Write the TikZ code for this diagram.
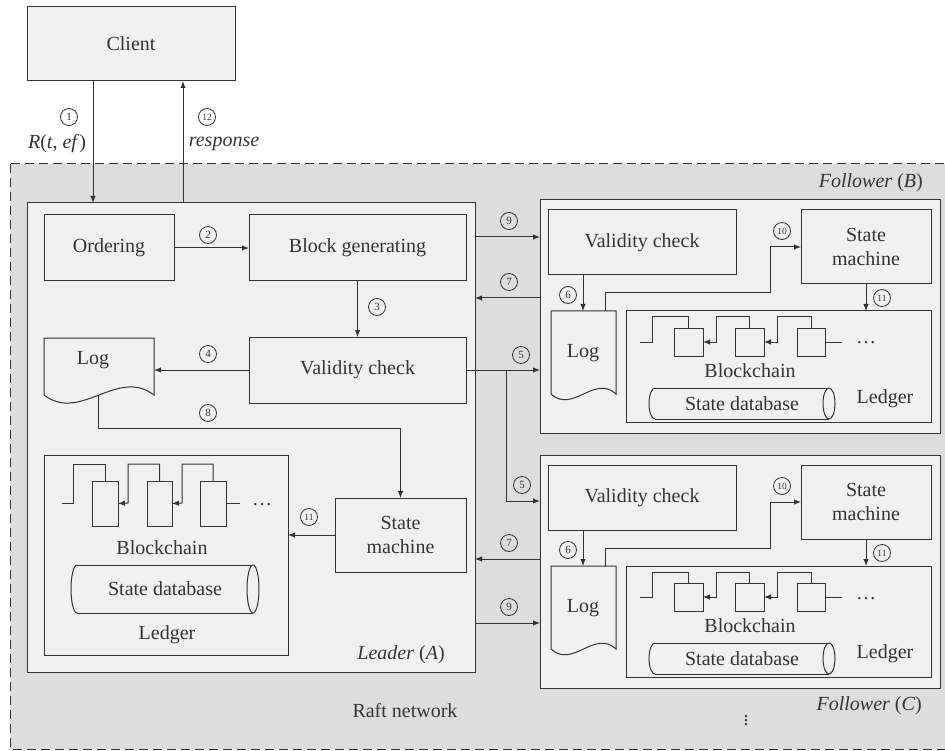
\documentclass[tikz,border=0pt]{standalone}
\usepackage{fontspec}
\setmainfont{Liberation Serif}
\usetikzlibrary{arrows.meta,calc}

\definecolor{netgray}{HTML}{DCDDDC}
\definecolor{panel}{HTML}{F0F1F0}
\definecolor{ink}{HTML}{333333}

\tikzset{
  base/.style={line width=1pt, draw=ink},
  box/.style={base, fill=panel, inner sep=0pt, outer sep=0pt, text=ink,
              font=\fontsize{20}{24.5}\selectfont, align=center},
  blk/.style={base, fill=panel, inner sep=0pt, outer sep=0pt},
  ghost/.style={inner sep=0pt, outer sep=0pt},
  arr/.style={base, -{Latex[length=7pt,width=5.5pt]}},
  num/.style={circle, draw=ink, line width=0.8pt, inner sep=0pt,
              minimum size=17pt, text=ink, font=\fontsize{11}{11}\selectfont},
  numw/.style={num, font=\fontsize{9.5}{10}\selectfont},
  lbl/.style={inner sep=0pt, text=ink, font=\fontsize{20}{22}\selectfont},
}

% rectangle node given by its corners: name, style, x0, y0, x1, y1, text
\newcommand\rectnode[7]{%
  \node[#2, minimum width={(#5)-(#3)}, minimum height={(#6)-(#4)}]
    (#1) at ({((#3)+(#5))/2},{((#4)+(#6))/2}) {#7};}

% document-shaped log: name, x0, ytop, x1, ybase, wave amplitude
\newcommand\logshape[6]{%
  \draw[base, fill=panel] (#2,#5) -- (#2,#3) -- (#4,#3) -- (#4,#5)
    .. controls ({(#4)-((#4)-(#2))/3},{(#5)-(#6)}) and ({(#2)+((#4)-(#2))/3},{(#5)+(#6)}) .. (#2,#5) -- cycle;
  \node[ghost, minimum width={(#4)-(#2)}, minimum height={(#5)-(#3)}]
    (#1) at ({((#2)+(#4))/2},{((#3)+(#5))/2}) {};}

% horizontal cylinder: name, x0, y0, x1, y1, text
\newcommand\cylinder[6]{%
  \fill[panel] ({(#2)+6},#3) rectangle ({(#4)-6},#5);
  \draw[base, fill=panel] ({(#2)+6},#3) arc[start angle=90, end angle=270,
        x radius=6pt, y radius={((#5)-(#3))/2*1pt}];
  \draw[base] ({(#2)+6},#3) -- ({(#4)-6},#3) ({(#2)+6},#5) -- ({(#4)-6},#5);
  \draw[base, fill=panel] ({(#4)-6},{((#3)+(#5))/2}) ellipse [x radius=6pt, y radius={((#5)-(#3))/2*1pt}];
  \node[lbl] (#1) at ({((#2)+(#4))/2},{((#3)+(#5))/2}) {#6};}

% one follower node: suffix, top edge
\newcommand\follower[2]{%
  \rectnode{fol#1}{box}{540}{#2}{940}{#2+233}{}
  \rectnode{vc#1}{box}{548}{#2+10}{736}{#2+75}{Validity check}
  \rectnode{sm#1}{box}{801}{#2+10}{931}{#2+84}{State\\machine}
  \rectnode{led#1}{box}{626}{#2+111}{931}{#2+222}{}
  \logshape{log#1}{551}{#2+111}{616}{#2+194}{20}
  \node[lbl] at (583,#2+153) {Log};
  % validity check -> log
  \draw[arr] ([xshift=-59pt]vc#1.south) -- ([xshift=-59pt]vc#1.south |- log#1.north);
  \node[num] at (568,#2+95) {6};
  % log -> state machine
  \draw[arr] ([xshift=21.5pt]log#1.north) -- ++(0,-18) -| ([xshift=-31pt]sm#1.west) -- (sm#1.west);
  \node[numw] at (782,#2+31) {10};
  % state machine -> ledger
  \draw[arr] (sm#1.south) -- (sm#1.south |- led#1.north);
  \node[numw] at (882,#2+98) {11};
  % blockchain
  \rectnode{bk#1a}{blk}{674}{#2+128}{703}{#2+156}{}
  \rectnode{bk#1b}{blk}{735}{#2+128}{764}{#2+156}{}
  \rectnode{bk#1c}{blk}{797}{#2+128}{825}{#2+156}{}
  \draw[base] (640,#2+142) -- (652,#2+142) -- (652,#2+117) -| (bk#1a.north);
  \draw[arr] (bk#1b.north) |- (716,#2+117) -- (716,#2+142) -- (bk#1a.east);
  \draw[arr] (bk#1c.north) |- (777,#2+117) -- (777,#2+142) -- (bk#1b.east);
  \draw[base] (bk#1c.east) -- ++(17,0);
  \node[lbl, anchor=base] at (866,#2+144) {\dots};
  \node[lbl] at (750,#2+171) {Blockchain};
  \cylinder{db#1}{649}{#2+188}{835}{#2+219}{State database}
  \node[lbl] at (885,#2+199) {Ledger};}

\begin{document}
\begin{tikzpicture}[x=1pt, y=-1pt]
  \useasboundingbox (0,0) rectangle (945,751);
  \fill[white] (0,0) rectangle (945,751);

  % Raft network area
  \draw[base, fill=netgray, dash pattern=on 9pt off 5pt] (10,164) rectangle (970,749);
  \node[lbl] at (405,711) {Raft network};

  % client
  \rectnode{client}{box}{27}{7}{235}{81}{Client}

  % leader
  \rectnode{leader}{box}{27}{203}{475}{672}{}
  \node[lbl, anchor=east] at (445,655) {\textit{Leader} (\textit{A})};

  \draw[arr] (client.south -| 93,0) -- (leader.north -| 93,0);
  \node[num] at (69,117) {1};
  \node[lbl] at (57,144) {\textit{R}(\textit{t}, \textit{ef})};
  \draw[arr] (leader.north -| 183,0) -- (client.south -| 183,0);
  \node[numw] at (207,117) {12};
  \node[lbl] at (224,144) {\textit{response}};

  \rectnode{ordering}{box}{44}{215}{174}{281}{Ordering}
  \rectnode{blockgen}{box}{249}{215}{466}{281}{Block generating}
  \rectnode{vcA}{box}{249}{337}{466}{403}{Validity check}
  \rectnode{smA}{box}{335}{498}{466}{572}{State\\machine}
  \rectnode{ledgerA}{box}{44}{455}{288}{655}{}
  \logshape{logA}{44}{338}{154}{395}{28}
  \node[lbl] at (93,360) {Log};

  \draw[arr] (ordering.east) -- (blockgen.west);
  \node[num] at (208,235) {2};
  \draw[arr] (blockgen.south) -- (vcA.north);
  \node[num] at (377,307) {3};
  \draw[arr] (vcA.west) -- (vcA.west -| logA.east);
  \node[num] at (208,354) {4};
  \draw[arr] ([xshift=-1pt]logA.south) -- ++(0,33) -| (smA.north);
  \node[num] at (208,413) {8};
  \draw[arr] (smA.west) -- (smA.west -| ledgerA.east);
  \node[numw] at (309,517) {11};

  % leader ledger contents
  \rectnode{bkAa}{blk}{92}{481}{118}{526}{}
  \rectnode{bkAb}{blk}{147}{481}{172}{526}{}
  \rectnode{bkAc}{blk}{200}{481}{226}{526}{}
  \draw[base] (62,503) -- (73,503) -- (73,464) -| (bkAa.north);
  \draw[arr] (bkAb.north) |- (128,464) -- (128,503) -- (bkAa.east);
  \draw[arr] (bkAc.north) |- (182,464) -- (182,503) -- (bkAb.east);
  \draw[base] (bkAc.east) -- ++(14,0);
  \node[lbl, anchor=base] at (262,505) {\dots};
  \node[lbl] at (162,548) {Blockchain};
  \cylinder{dbA}{71}{565}{259}{613}{State database}
  \node[lbl] at (167,635) {Ledger};

  % followers
  \follower{B}{200}
  \follower{C}{455}
  \node[lbl, anchor=east] at (923,183) {\textit{Follower} (\textit{B})};
  \node[lbl, anchor=east] at (922,706) {\textit{Follower} (\textit{C})};
  \node[lbl] at (746,718) {$\vdots$};

  % leader <-> followers
  \draw[arr] (leader.east |- 0,237) -- (folB.west |- 0,237);
  \node[num] at (509,221) {9};
  \draw[arr] (folB.west |- 0,298) -- (leader.east |- 0,298);
  \node[num] at (509,282) {7};
  \draw[arr] (vcA.east) -- (vcA.east -| folB.west);
  \node[num] at (521,355) {5};
  \draw[arr] ([xshift=40pt]vcA.east) |- (folC.west |- 0,501);
  \node[num] at (522,485) {5};
  \draw[arr] (folC.west |- 0,559) -- (leader.east |- 0,559);
  \node[num] at (509,543) {7};
  \draw[arr] (leader.east |- 0,623) -- (folC.west |- 0,623);
  \node[num] at (509,607) {9};
\end{tikzpicture}
\end{document}
